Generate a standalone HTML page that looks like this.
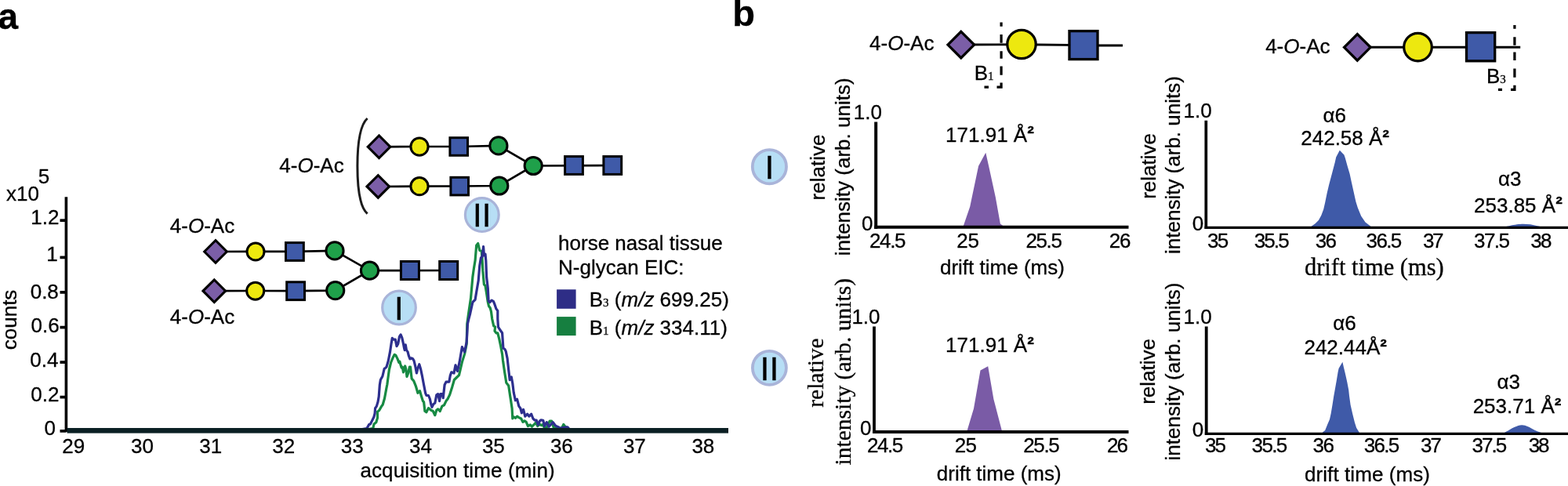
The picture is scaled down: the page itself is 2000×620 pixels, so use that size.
<!DOCTYPE html>
<html><head><meta charset="utf-8"><title>Figure</title>
<style>
html,body{margin:0;padding:0;background:#fff;}
body{width:2000px;height:620px;overflow:hidden;}
svg{display:block;}
svg text{stroke:#000;stroke-width:0.3px;}

</style></head><body>
<svg width="2000" height="620" viewBox="0 0 2000 620" font-family="'Liberation Sans', Arial, Helvetica, sans-serif" fill="#000">
<rect width="2000" height="620" fill="#fff"/>
<text x="-2.58" y="36.8" font-size="46" font-weight="bold" >a</text>
<path d="M84.4,251.3 L84.4,551" fill="none" stroke="#000" stroke-width="3.6"/>
<path d="M76.5,281.2 L84.4,281.2" fill="none" stroke="#000" stroke-width="3.7"/>
<path d="M76.5,328.4 L84.4,328.4" fill="none" stroke="#000" stroke-width="3.7"/>
<path d="M76.5,372.9 L84.4,372.9" fill="none" stroke="#000" stroke-width="3.7"/>
<path d="M76.5,417.6 L84.4,417.6" fill="none" stroke="#000" stroke-width="3.7"/>
<path d="M76.5,462.1 L84.4,462.1" fill="none" stroke="#000" stroke-width="3.7"/>
<path d="M76.5,506.6 L84.4,506.6" fill="none" stroke="#000" stroke-width="3.7"/>
<path d="M76.5,549.9 L84.4,549.9" fill="none" stroke="#000" stroke-width="3.7"/>
<text x="39.25" y="285.6" font-size="26" >1.2</text>
<text x="59.15" y="333" font-size="26" >1</text>
<text x="38.7" y="380.6" font-size="26" >0.8</text>
<text x="39.5" y="423.7" font-size="26" >0.6</text>
<text x="38.33" y="468.2" font-size="26" >0.4</text>
<text x="39.25" y="512.2" font-size="26" >0.2</text>
<text x="56.5" y="555" font-size="26" >0</text>
<text x="7.93" y="256.3" font-size="26" >x10</text>
<text x="48.8" y="233.6" font-size="26" >5</text>
<text transform="translate(21,407.8) rotate(-90)" x="-38.44" y="0" font-size="26">counts</text>
<text x="79.25" y="578.2" font-size="26" >29</text>
<text x="167" y="578.2" font-size="26" >30</text>
<text x="254.2" y="578.2" font-size="26" >31</text>
<text x="347.3" y="578.2" font-size="26" >32</text>
<text x="434.7" y="578.2" font-size="26" >33</text>
<text x="522" y="578.2" font-size="26" >34</text>
<text x="614.9" y="578.2" font-size="26" >35</text>
<text x="701.9" y="578.2" font-size="26" >36</text>
<text x="794.9" y="578.2" font-size="26" >37</text>
<text x="882.4" y="578.2" font-size="26" >38</text>
<text x="459.38" y="608.8" font-size="26" textLength="248.27" lengthAdjust="spacing" >acquisition time (min)</text>
<g fill="none" stroke-width="3" stroke-linejoin="round" stroke-linecap="round">
<path d="M470,547.5 L475.8,546.5 L477,541 L479.8,538.8 L481.5,533.1 L481.5,525.2 L483.7,523.5 L486.6,518.4 L488.2,516.2 L490.5,508.2 L492.8,495.8 L493.9,490.2 L494.7,483.9 L496.4,471.5 L498.6,462.5 L500.9,456.8 L503.2,452.3 L504.9,453.4 L507.1,457.9 L508.8,462.5 L509.9,461.3 L511.1,465.8 L512.2,469.2 L513.3,468.1 L514.5,474.9 L515.6,470.4 L516.7,467 L517.9,471.5 L519,480.5 L520.7,476 L522.4,468.1 L523.5,468.1 L524.6,478.3 L525.2,483.2 L527.7,485.8 L530.3,492.3 L532.9,501.3 L535.5,498.7 L537.4,505.2 L539.4,511.6 L540.6,512.9 L541.9,524.5 L543.9,525.8 L546.5,520.6 L549.7,523.2 L552.3,524.5 L554.8,529.7 L556.8,523.2 L558.7,521.9 L561.3,524.5 L563.9,518.1 L566.5,516.8 L569,511.6 L571,509 L573.5,503.9 L576.8,493.5 L579.4,484.5 L582,482 L585.5,478.7 L589.4,461.9 L592.6,451.6 L595.2,438.7 L595.8,412.9 L597.6,400 L600.5,380.6 L602.9,353.2 L604.5,341.9 L606.1,332.3 L607.7,312.9 L609.7,310.5 L611,316.1 L611.8,319.4 L614.2,320.2 L615,329 L615.8,345.2 L617.4,362.9 L619,364.5 L620.6,374.2 L622.3,385.5 L623.5,390.5 L625.3,393 L626.5,397.7 L627.7,406.8 L629.7,415.8 L631.6,417.1 L631,422.3 L632.9,424.8 L634.8,424.8 L636.8,432.6 L638.7,441.6 L640.6,451.9 L641.5,460 L643.6,474.5 L645.8,488.3 L648.7,491.9 L650.9,506.4 L653.1,521 L653.8,534 L655.2,531.8 L657.4,533.3 L659.6,531.1 L661.8,532.6 L664.7,534 L666.9,538.4 L669,536.9 L671.2,538.4 L673.4,543.5 L676.3,542 L678.5,544.2 L681.4,541.3 L683.5,539.1 L685.7,543.5 L688.6,541.3 L690.6,542.6 L692.3,541.5 L694.5,546 L697,546 L701.3,537 L703.6,537 L706.4,546 L716.6,546 L718.8,541.5 L720.5,543.7 L725,547.5" fill="none" stroke="#178a43" stroke-width="3.2"/>
<path d="M462,547.5 L467.9,546.5 L470.7,541.6 L472.4,541 L474.1,537.6 L476.9,532 L478.1,527.5 L478.6,520.7 L480.3,518.4 L482,512.8 L483.2,506 L484.3,491.3 L485.4,484.5 L487.9,480 L490.2,470.4 L491.9,469.2 L493,468.1 L495.3,460.2 L497.5,448.9 L499.2,437.6 L500.3,431.4 L502,433.1 L504.3,433.1 L506,441.6 L507.7,438.7 L509.4,429.7 L511.1,426.9 L512.8,430.8 L514.5,438.7 L515.6,444.4 L516.2,446.6 L517.3,439.9 L518.4,446.6 L520.1,448.9 L521.2,453.4 L522.9,457.9 L524.6,456.8 L526.3,457.4 L528,460.2 L529.7,467 L531.4,476 L533.1,469.2 L534.8,464.7 L536.5,470.4 L538.2,478.3 L540.6,491 L542.6,501.3 L543.9,504.5 L546.5,504.5 L548.4,509 L549.7,515.5 L551,519.4 L552.9,515.5 L554.8,514.2 L556.8,503.9 L558.7,502.6 L560.6,511.6 L561.9,502.6 L563.9,502.6 L565.2,507.7 L567.1,491 L569,487.1 L572.9,487.1 L574.2,479.4 L575.8,474.8 L579,476.1 L581,465.8 L583.5,473.5 L586.1,461.9 L589.4,442.6 L592.6,449 L595.2,436.1 L596.5,412.9 L597.7,407.7 L599.7,400 L602.9,385.5 L604.5,383.9 L606.1,382.3 L607.7,372.6 L610.2,358.1 L611.8,338.7 L613.4,329 L615,327.4 L616.6,314.5 L617.4,325.8 L619,324.2 L619.8,332.3 L620.6,353.2 L622.3,367.7 L623.1,383.9 L624.7,385.5 L627.1,383.1 L629.5,384.7 L631.1,388.7 L632.9,393.9 L634.8,396.5 L634.8,406.8 L635.5,417.1 L637.4,420.3 L640.6,424.8 L641.3,435.2 L641.9,444.2 L643.9,445.5 L645.2,448.1 L647.1,457.1 L648.7,471.6 L650.2,484.7 L652.3,481 L653.8,489 L655.2,500.6 L657.4,510.8 L659.6,509.3 L661.8,518.1 L663.9,521 L665.4,526.8 L667.6,522.4 L669.8,531.1 L672.7,528.2 L674.8,531.1 L677.7,528.2 L679.9,534 L682.1,536.2 L684.3,536.2 L686.4,542 L688.6,536.9 L690,535.8 L692.8,536.4 L694.5,543.7 L697.3,538.6 L700.2,544.3 L705.3,538.6 L708.6,543.2 L712.6,544.9 L713.7,546.6 L718.8,545.4 L723.9,544.9 L726.2,547.5" fill="none" stroke="#2d2f8e" stroke-width="3.2"/>
</g>
<rect x="85.5" y="546" width="843.5" height="6.6" fill="#0b2024"/>
<path d="M275,321 L326,320.8 L375.9,320.8 L427,319.9 L471.5,345.2 L427.7,370.6 L377.1,371.2 L325.7,371 L273.3,371.2" fill="none" stroke="#000" stroke-width="2.7"/>
<path d="M471.5,345.2 L572.2,345" fill="none" stroke="#000" stroke-width="2.7"/>
<path d="M260.7,321 L275,306.7 L289.3,321 L275,335.3 Z" fill="#7b5ea7" stroke="#000" stroke-width="3.1" stroke-linejoin="miter"/>
<circle cx="326" cy="321" r="11" fill="#ede80f" stroke="#000" stroke-width="3"/>
<rect x="364.5" y="309.6" width="22.8" height="22.8" fill="#3f5aa8" stroke="#000" stroke-width="3"/>
<circle cx="427" cy="319.9" r="11.1" fill="#1fa04a" stroke="#000" stroke-width="3"/>
<path d="M259,371.2 L273.3,356.9 L287.6,371.2 L273.3,385.5 Z" fill="#7b5ea7" stroke="#000" stroke-width="3.1" stroke-linejoin="miter"/>
<circle cx="325.7" cy="371.2" r="11" fill="#ede80f" stroke="#000" stroke-width="3"/>
<rect x="365.7" y="359.8" width="22.8" height="22.8" fill="#3f5aa8" stroke="#000" stroke-width="3"/>
<circle cx="427.7" cy="370.6" r="11.1" fill="#1fa04a" stroke="#000" stroke-width="3"/>
<circle cx="471.5" cy="345.2" r="11.1" fill="#1fa04a" stroke="#000" stroke-width="3"/>
<rect x="511.4" y="333.5" width="23" height="23" fill="#3f5aa8" stroke="#000" stroke-width="3"/>
<rect x="560.7" y="333.5" width="23" height="23" fill="#3f5aa8" stroke="#000" stroke-width="3"/>
<text x="216.78" y="297.1" font-size="26">4-<tspan font-style="italic">O</tspan>-Ac</text>
<text x="216.78" y="412.7" font-size="26">4-<tspan font-style="italic">O</tspan>-Ac</text>
<path d="M483.5,187.4 L535,187 L585.2,187 L635.9,185.9 L680.2,211.5 L636.8,237 L586.2,237.5 L535,237.6 L482.3,238" fill="none" stroke="#000" stroke-width="2.7"/>
<path d="M680.2,211.5 L781.3,211" fill="none" stroke="#000" stroke-width="2.7"/>
<path d="M469.2,187.3 L483.5,173 L497.8,187.3 L483.5,201.6 Z" fill="#7b5ea7" stroke="#000" stroke-width="3.1" stroke-linejoin="miter"/>
<circle cx="535" cy="187.1" r="11.1" fill="#ede80f" stroke="#000" stroke-width="3"/>
<rect x="573.9" y="175.7" width="22.6" height="22.6" fill="#3f5aa8" stroke="#000" stroke-width="3"/>
<circle cx="635.9" cy="185.9" r="11.1" fill="#1fa04a" stroke="#000" stroke-width="3"/>
<path d="M468,237.9 L482.3,223.6 L496.6,237.9 L482.3,252.2 Z" fill="#7b5ea7" stroke="#000" stroke-width="3.1" stroke-linejoin="miter"/>
<circle cx="535" cy="237.7" r="11.1" fill="#ede80f" stroke="#000" stroke-width="3"/>
<rect x="574.9" y="226.3" width="22.6" height="22.6" fill="#3f5aa8" stroke="#000" stroke-width="3"/>
<circle cx="636.8" cy="237" r="11.1" fill="#1fa04a" stroke="#000" stroke-width="3"/>
<circle cx="680.2" cy="211.5" r="11.1" fill="#1fa04a" stroke="#000" stroke-width="3"/>
<rect x="720.6" y="199.6" width="22.8" height="22.8" fill="#3f5aa8" stroke="#000" stroke-width="3"/>
<rect x="769.9" y="199.6" width="22.8" height="22.8" fill="#3f5aa8" stroke="#000" stroke-width="3"/>
<text x="356.27" y="220.2" font-size="26">4-<tspan font-style="italic">O</tspan>-Ac</text>
<path d="M468.6,151 C457.5,161 455.9,190 455.9,212 C455.9,234 457.5,263 468.6,272.6" fill="none" stroke="#1c1c1c" stroke-width="3"/>
<circle cx="509" cy="392.5" r="21.3" fill="#b7def5" stroke="#a9b4d9" stroke-width="3.2"/>
<text x="509" y="407.6" font-size="42.3" text-anchor="middle">I</text>
<circle cx="614.8" cy="274.1" r="21.4" fill="#b7def5" stroke="#a9b4d9" stroke-width="3.2"/>
<text x="614.8" y="288.8" font-size="42.3" text-anchor="middle">II</text>
<text x="712.05" y="319.4" font-size="26" >horse nasal tissue</text>
<text x="712.08" y="350.2" font-size="26" >N-glycan EIC:</text>
<rect x="710.1" y="369.3" width="24.5" height="24.5" fill="#2e2d86"/>
<rect x="710.1" y="404.1" width="24.5" height="24" fill="#167f40"/>
<text x="751.77" y="390.7" font-size="26">B<tspan font-family="'Liberation Serif', 'Times New Roman', serif" font-size="15">3</tspan> (<tspan font-style="italic">m/z</tspan> 699.25)</text>
<text x="751.77" y="427.4" font-size="26">B<tspan font-family="'Liberation Serif', 'Times New Roman', serif" font-size="15">1</tspan> (<tspan font-style="italic">m/z</tspan> 334.11)</text>
<text x="934.17" y="32.6" font-size="47" font-weight="bold" >b</text>
<text x="1109.08" y="63.9" font-size="26">4-<tspan font-style="italic">O</tspan>-Ac</text>
<path d="M1225.8,57 L1303,56.8" fill="none" stroke="#000" stroke-width="2.9"/>
<path d="M1303,56.8 L1382,57.6" fill="none" stroke="#000" stroke-width="2.9"/>
<path d="M1382,58 L1432,58" fill="none" stroke="#000" stroke-width="2.9"/>
<path d="M1209,57.1 L1225.8,40.3 L1242.6,57.1 L1225.8,73.9 Z" fill="#7b5ea7" stroke="#000" stroke-width="3.3" stroke-linejoin="miter"/>
<circle cx="1303" cy="56.5" r="18.2" fill="#ede80f" stroke="#000" stroke-width="3.2"/>
<rect x="1364" y="39.6" width="36" height="36" fill="#3f5aa8" stroke="#000" stroke-width="3.3"/>
<path d="M1255.5,111.1 H1277.1 V28.4" fill="none" stroke="#000" stroke-width="3.2" stroke-dasharray="5.5 10.5 11.2 9.7 11.3 9.7 9.6 10.5 10.8 10.2 6"/>
<text x="1242.67" y="101.5" font-size="26">B<tspan font-family="'Liberation Serif', 'Times New Roman', serif" font-size="15">1</tspan></text>
<text x="1614.17" y="68.1" font-size="26">4-<tspan font-style="italic">O</tspan>-Ac</text>
<path d="M1731.3,60.2 L1939.2,60.2" fill="none" stroke="#000" stroke-width="2.9"/>
<path d="M1714.5,60.3 L1731.3,43.5 L1748.1,60.3 L1731.3,77.1 Z" fill="#7b5ea7" stroke="#000" stroke-width="3.3" stroke-linejoin="miter"/>
<circle cx="1808.5" cy="60.1" r="17.8" fill="#ede80f" stroke="#000" stroke-width="3.2"/>
<rect x="1870.5" y="41.6" width="36.2" height="36.2" fill="#3f5aa8" stroke="#000" stroke-width="3.3"/>
<path d="M1911,114.4 H1931.9 V32.1" fill="none" stroke="#000" stroke-width="3.2" stroke-dasharray="5 11 10.5 10 11.3 10.4 10.5 8.9 10.5 10.5 5"/>
<text x="1895.88" y="105.5" font-size="26">B<tspan font-family="'Liberation Serif', 'Times New Roman', serif" font-size="15">3</tspan></text>
<circle cx="981.4" cy="212.7" r="21.6" fill="#b7def5" stroke="#a9b4d9" stroke-width="3.8"/>
<text x="981.4" y="228.2" font-size="42.7" text-anchor="middle">I</text>
<circle cx="981.4" cy="469.3" r="21.5" fill="#b7def5" stroke="#a9b4d9" stroke-width="3.8"/>
<text x="981.4" y="484.8" font-size="42.6" text-anchor="middle">II</text>
<path d="M1228.2,290 L1237.2,263.7 L1248.1,211.7 L1257.3,194.8 L1261.4,212.9 L1269.8,251.6 L1275.9,285.5 L1281.9,290 Z" fill="#7a5ba6"/>
<path d="M1117.2,155.6 L1117.2,291.9" fill="none" stroke="#000" stroke-width="4"/>
<path d="M1115.2,289.8 L1439.5,289.8" fill="none" stroke="#000" stroke-width="4"/>
<text x="1088.8" y="152.3" font-size="26" >1.0</text>
<text x="1099" y="294.3" font-size="26" textLength="14.56" lengthAdjust="spacing" >0</text>
<text x="1108.95" y="316.2" font-size="26" textLength="46.56" lengthAdjust="spacing" >24.5</text>
<text x="1220.35" y="316.2" font-size="26" textLength="28.6" lengthAdjust="spacing" >25</text>
<text x="1308.45" y="316.2" font-size="26" textLength="46.46" lengthAdjust="spacing" >25.5</text>
<text x="1414.65" y="316.2" font-size="26" textLength="27.7" lengthAdjust="spacing" >26</text>
<text x="1198.97" y="350.4" font-size="26" >drift time (ms)</text>
<text x="1206.1" y="180.7" font-size="26" >171.91 Å<tspan font-weight="bold" dy="-1.3">²</tspan></text>
<text transform="translate(1052,213.2) rotate(-90)" x="-42.25" y="0" font-size="26">relative</text>
<text transform="translate(1083.5,212.8) rotate(-90)" x="-113.5" y="0" font-size="26">intensity (arb. units)</text>
<path d="M1671.9,290 L1672.7,288.7 L1677.6,285.3 L1681.9,281 L1685.3,274.7 L1688.2,267 L1690.2,258.2 L1692.6,246.6 L1695.2,235.5 L1699.4,219.8 L1702.7,207.3 L1704.2,200.5 L1708.8,191.8 L1714.4,197.6 L1715.8,201.5 L1718.7,212.1 L1721.6,221.8 L1724,233 L1727,246.6 L1729.4,257.3 L1731.8,265 L1736.2,275.7 L1741.5,283.4 L1748.3,288.7 L1749,290 Z" fill="#3f5aa8"/>
<path d="M1914,290.5 C1915.83,290.12 1921.5,288.9 1925,288.2 C1928.5,287.5 1932,286.72 1935,286.3 C1938,285.88 1940.17,285.7 1943,285.7 C1945.83,285.7 1949,285.87 1952,286.3 C1955,286.73 1957.83,287.6 1961,288.3 C1964.17,289 1969.33,290.13 1971,290.5 Z" fill="#3f5aa8"/>
<path d="M1538.3,153.7 L1538.3,291.9" fill="none" stroke="#000" stroke-width="3.7"/>
<path d="M1536.5,290.4 L2000,290.4" fill="none" stroke="#000" stroke-width="3.4"/>
<text x="1509.6" y="150.2" font-size="26" >1.0</text>
<text x="1520.8" y="294.3" font-size="26" textLength="14.06" lengthAdjust="spacing" >0</text>
<text x="1540.1" y="316" font-size="26" textLength="27.05" lengthAdjust="spacing" >35</text>
<text x="1599.8" y="316" font-size="26" textLength="44.81" lengthAdjust="spacing" >35.5</text>
<text x="1677.7" y="316" font-size="26" textLength="27.25" lengthAdjust="spacing" >36</text>
<text x="1742.6" y="316" font-size="26" textLength="45.71" lengthAdjust="spacing" >36.5</text>
<text x="1815.1" y="316" font-size="26" textLength="26.4" lengthAdjust="spacing" >37</text>
<text x="1880" y="316" font-size="26" textLength="46.01" lengthAdjust="spacing" >37.5</text>
<text x="1952.3" y="316" font-size="26" textLength="27.05" lengthAdjust="spacing" >38</text>
<text x="1663.97" y="350.5" font-size="30.5" font-family="'Liberation Serif', 'Times New Roman', serif" textLength="177.78" lengthAdjust="spacing" >drift time (ms)</text>
<text x="1687.58" y="155.9" font-size="26" >α6</text>
<text x="1659.25" y="185" font-size="26" >242.58 Å<tspan font-weight="bold" dy="-1.3">²</tspan></text>
<text x="1910.97" y="237.3" font-size="26" >α3</text>
<text x="1880.05" y="270.6" font-size="26" >253.85 Å<tspan font-weight="bold" dy="-1.3">²</tspan></text>
<text transform="translate(1473.5,211.6) rotate(-90)" x="-42.25" y="0" font-size="26">relative</text>
<text transform="translate(1504.5,210.5) rotate(-90)" x="-113.5" y="0" font-size="26">intensity (arb. units)</text>
<path d="M1233.1,551 L1242,521.3 L1250.5,472.4 L1260.2,467.3 L1267.4,509.2 L1278.3,551 Z" fill="#7a5ba6"/>
<path d="M1115,416.5 L1115,553" fill="none" stroke="#000" stroke-width="3.8"/>
<path d="M1113.1,551 L1439.5,551" fill="none" stroke="#000" stroke-width="4"/>
<text x="1086.4" y="413.4" font-size="26" >1.0</text>
<text x="1097.1" y="555.4" font-size="26" textLength="14.86" lengthAdjust="spacing" >0</text>
<text x="1105.95" y="577.3" font-size="26" textLength="46.36" lengthAdjust="spacing" >24.5</text>
<text x="1217.75" y="577.3" font-size="26" textLength="28.2" lengthAdjust="spacing" >25</text>
<text x="1305.25" y="577.3" font-size="26" textLength="46.46" lengthAdjust="spacing" >25.5</text>
<text x="1412.05" y="577.3" font-size="26" textLength="26.8" lengthAdjust="spacing" >26</text>
<text x="1194.78" y="613.3" font-size="26" >drift time (ms)</text>
<text x="1206.1" y="449.4" font-size="26" >171.91 Å<tspan font-weight="bold" dy="-1.3">²</tspan></text>
<text transform="translate(1050,475.7) rotate(-90)" x="-44.06" y="0" font-size="29.5" font-family="'Liberation Serif', 'Times New Roman', serif">relative</text>
<text transform="translate(1084.9,474.5) rotate(-90)" x="-118.88" y="0" font-size="29.5" font-family="'Liberation Serif', 'Times New Roman', serif">intensity (arb. units)</text>
<path d="M1686.5,553 L1687.1,551.5 L1690.2,548.9 L1693.3,541.3 L1696,535.1 L1697.7,527.2 L1699.5,516.5 L1701.3,505 L1702.3,499.5 L1704.7,486 L1706.6,474.4 L1707.6,470 L1712.4,461.8 L1713.9,468.6 L1715.8,476.3 L1718.2,487 L1720.2,497.6 L1721,505 L1722.6,516.5 L1725.2,528 L1727.9,538.7 L1730.1,545.8 L1733.6,551.5 L1734.2,553 Z" fill="#3f5aa8"/>
<path d="M1916.5,553 C1917.75,552.37 1921.42,550.57 1924,549.2 C1926.58,547.83 1929.17,545.95 1932,544.8 C1934.83,543.65 1938.17,542.38 1941,542.3 C1943.83,542.22 1946.17,543.18 1949,544.3 C1951.83,545.42 1954.75,547.55 1958,549 C1961.25,550.45 1966.75,552.33 1968.5,553 Z" fill="#3f5aa8"/>
<path d="M1538.7,416.5 L1538.7,555" fill="none" stroke="#000" stroke-width="3.8"/>
<path d="M1536.8,553.4 L2000,553.4" fill="none" stroke="#000" stroke-width="3.3"/>
<text x="1509.6" y="413.4" font-size="26" >1.0</text>
<text x="1520.8" y="557" font-size="26" textLength="14.36" lengthAdjust="spacing" >0</text>
<text x="1536.9" y="577.1" font-size="26" textLength="27.05" lengthAdjust="spacing" >35</text>
<text x="1596.6" y="577.1" font-size="26" textLength="45.61" lengthAdjust="spacing" >35.5</text>
<text x="1674.6" y="577.1" font-size="26" textLength="27.25" lengthAdjust="spacing" >36</text>
<text x="1739.8" y="577.1" font-size="26" textLength="45.41" lengthAdjust="spacing" >36.5</text>
<text x="1812" y="577.1" font-size="26" textLength="27" lengthAdjust="spacing" >37</text>
<text x="1877.5" y="577.1" font-size="26" textLength="44.61" lengthAdjust="spacing" >37.5</text>
<text x="1949.7" y="577.1" font-size="26" textLength="26.75" lengthAdjust="spacing" >38</text>
<text x="1663.97" y="614" font-size="26" textLength="160.07" lengthAdjust="spacing" >drift time (ms)</text>
<text x="1700.28" y="421.1" font-size="26" >α6</text>
<text x="1663.45" y="451.9" font-size="26" >242.44Å<tspan font-weight="bold" dy="-1.3">²</tspan></text>
<text x="1909.47" y="496.1" font-size="26" >α3</text>
<text x="1878.65" y="527.3" font-size="26" >253.71 Å<tspan font-weight="bold" dy="-1.3">²</tspan></text>
<text transform="translate(1472.6,473.6) rotate(-90)" x="-42.25" y="0" font-size="26">relative</text>
<text transform="translate(1504.9,474) rotate(-90)" x="-113.5" y="0" font-size="26">intensity (arb. units)</text>
</svg>
</body></html>
